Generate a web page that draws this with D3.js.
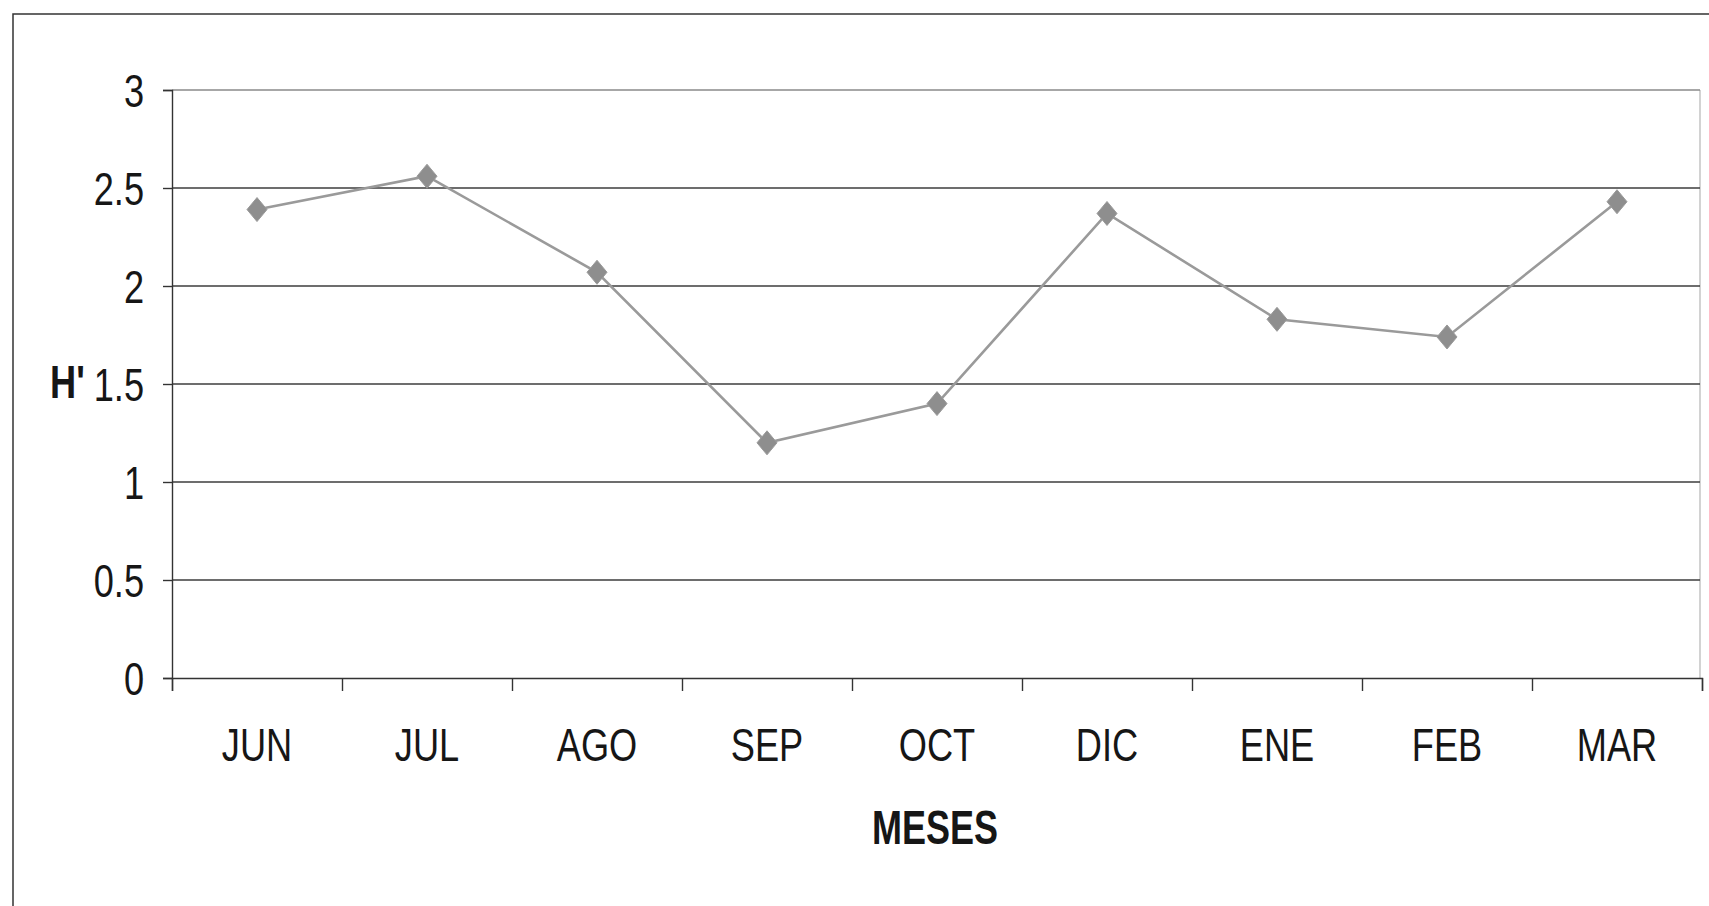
<!DOCTYPE html>
<html>
<head>
<meta charset="utf-8">
<script src="https://cdn.jsdelivr.net/npm/d3@7"></script>
<style>
  html, body { margin: 0; padding: 0; background: #fff; }
  svg { display: block; }
  text { font-family: "Liberation Sans", Arial, sans-serif; fill: #161616; }
</style>
</head>
<body>
<svg id="chart" width="1709" height="906"></svg>
<script>
const months = ["JUN", "JUL", "AGO", "SEP", "OCT", "DIC", "ENE", "FEB", "MAR"];
const hValues = [2.39, 2.56, 2.07, 1.20, 1.40, 2.37, 1.83, 1.74, 2.43];
const yTicks = [0, 0.5, 1, 1.5, 2, 2.5, 3];
const yTickLabels = ["0", "0.5", "1", "1.5", "2", "2.5", "3"];
const xTitle = "MESES";
const yTitle = "H'";

const W = 1709, H = 906;
const plot = { left: 172, top: 90, right: 1702, bottom: 678 };
const SX = 0.77; // horizontal condensing of the narrow font

const svg = d3.select("#chart");

// outer frame (only top and left visible)
svg.append("path")
  .attr("d", `M13,${H + 2} L13,14 L${W + 2},14`)
  .attr("fill", "none").attr("stroke", "#333").attr("stroke-width", 1.5);

const y = d3.scaleLinear().domain([0, 3]).range([plot.bottom, plot.top]);
const x = d3.scaleBand().domain(months).range([plot.left, plot.right]).padding(0);
const xEdge = d3.scaleLinear().domain([0, months.length]).range([plot.left, plot.right]);

// plot area right border
svg.append("line")
  .attr("x1", plot.right - 2).attr("x2", plot.right - 2)
  .attr("y1", plot.top).attr("y2", plot.bottom)
  .attr("stroke", "#b5b5b5").attr("stroke-width", 1.2);

// gridlines
svg.append("g").selectAll("line").data(yTicks.filter(d => d > 0)).join("line")
  .attr("x1", plot.left).attr("x2", plot.right - 2)
  .attr("y1", d => y(d)).attr("y2", d => y(d))
  .attr("stroke", d => d === 3 ? "#8a8a8a" : "#3c3c3c")
  .attr("stroke-width", 1.4);

// y axis
const yAxis = svg.append("g")
  .attr("transform", `translate(${plot.left},0)`)
  .call(d3.axisLeft(y).tickValues(yTicks).tickSize(9).tickPadding(0)
    .tickFormat((d, i) => yTickLabels[i]));
yAxis.select(".domain").attr("stroke", "#333").attr("stroke-width", 1.4);
yAxis.selectAll(".tick line").attr("stroke", "#333").attr("stroke-width", 1.4);
yAxis.selectAll(".tick text")
  .attr("font-size", 47).attr("font-family", null)
  .attr("x", -28 / SX).attr("dy", "0.36em")
  .attr("transform", `scale(${SX},1)`)
  .attr("fill", "#161616");

// x axis line + boundary ticks
const xAxisTicks = svg.append("g")
  .attr("transform", `translate(0,${plot.bottom})`)
  .call(d3.axisBottom(xEdge).tickValues(d3.range(months.length + 1)).tickSize(13).tickFormat(""));
xAxisTicks.select(".domain").attr("stroke", "#333").attr("stroke-width", 1.4);
xAxisTicks.selectAll(".tick line").attr("stroke", "#333").attr("stroke-width", 1.4);

// x category labels
const xAxisLabels = svg.append("g")
  .attr("transform", `translate(0,${plot.bottom})`)
  .call(d3.axisBottom(x).tickSize(0));
xAxisLabels.select(".domain").remove();
xAxisLabels.selectAll(".tick text")
  .attr("font-size", 47).attr("font-family", null)
  .attr("y", 83).attr("dy", 0)
  .attr("transform", `scale(${SX},1)`)
  .attr("fill", "#161616");

// axis titles
svg.append("text")
  .attr("transform", `translate(${(plot.left + plot.right) / 2 - 2},844) scale(${SX - 0.02},1)`)
  .attr("text-anchor", "middle").attr("font-size", 48).attr("font-weight", "bold")
  .text(xTitle);
svg.append("text")
  .attr("transform", `translate(50,${y(1.5) + 14}) scale(${SX},1)`)
  .attr("text-anchor", "start").attr("font-size", 47).attr("font-weight", "bold")
  .text(yTitle);

// line
const data = months.map((m, i) => ({ m, v: hValues[i] }));
const line = d3.line().x(d => x(d.m) + x.bandwidth() / 2).y(d => y(d.v));
svg.append("path").datum(data)
  .attr("d", line)
  .attr("fill", "none").attr("stroke", "#9a9a9a").attr("stroke-width", 2.6);

// diamond markers
const diamond = "M0,-12 L10,0 L0,12 L-10,0 Z";
svg.append("g").selectAll("path").data(data).join("path")
  .attr("d", diamond)
  .attr("transform", d => `translate(${x(d.m) + x.bandwidth() / 2},${y(d.v)})`)
  .attr("fill", "#8e8e8e").attr("stroke", "#9a9a9a").attr("stroke-width", 1);
</script>
</body>
</html>
